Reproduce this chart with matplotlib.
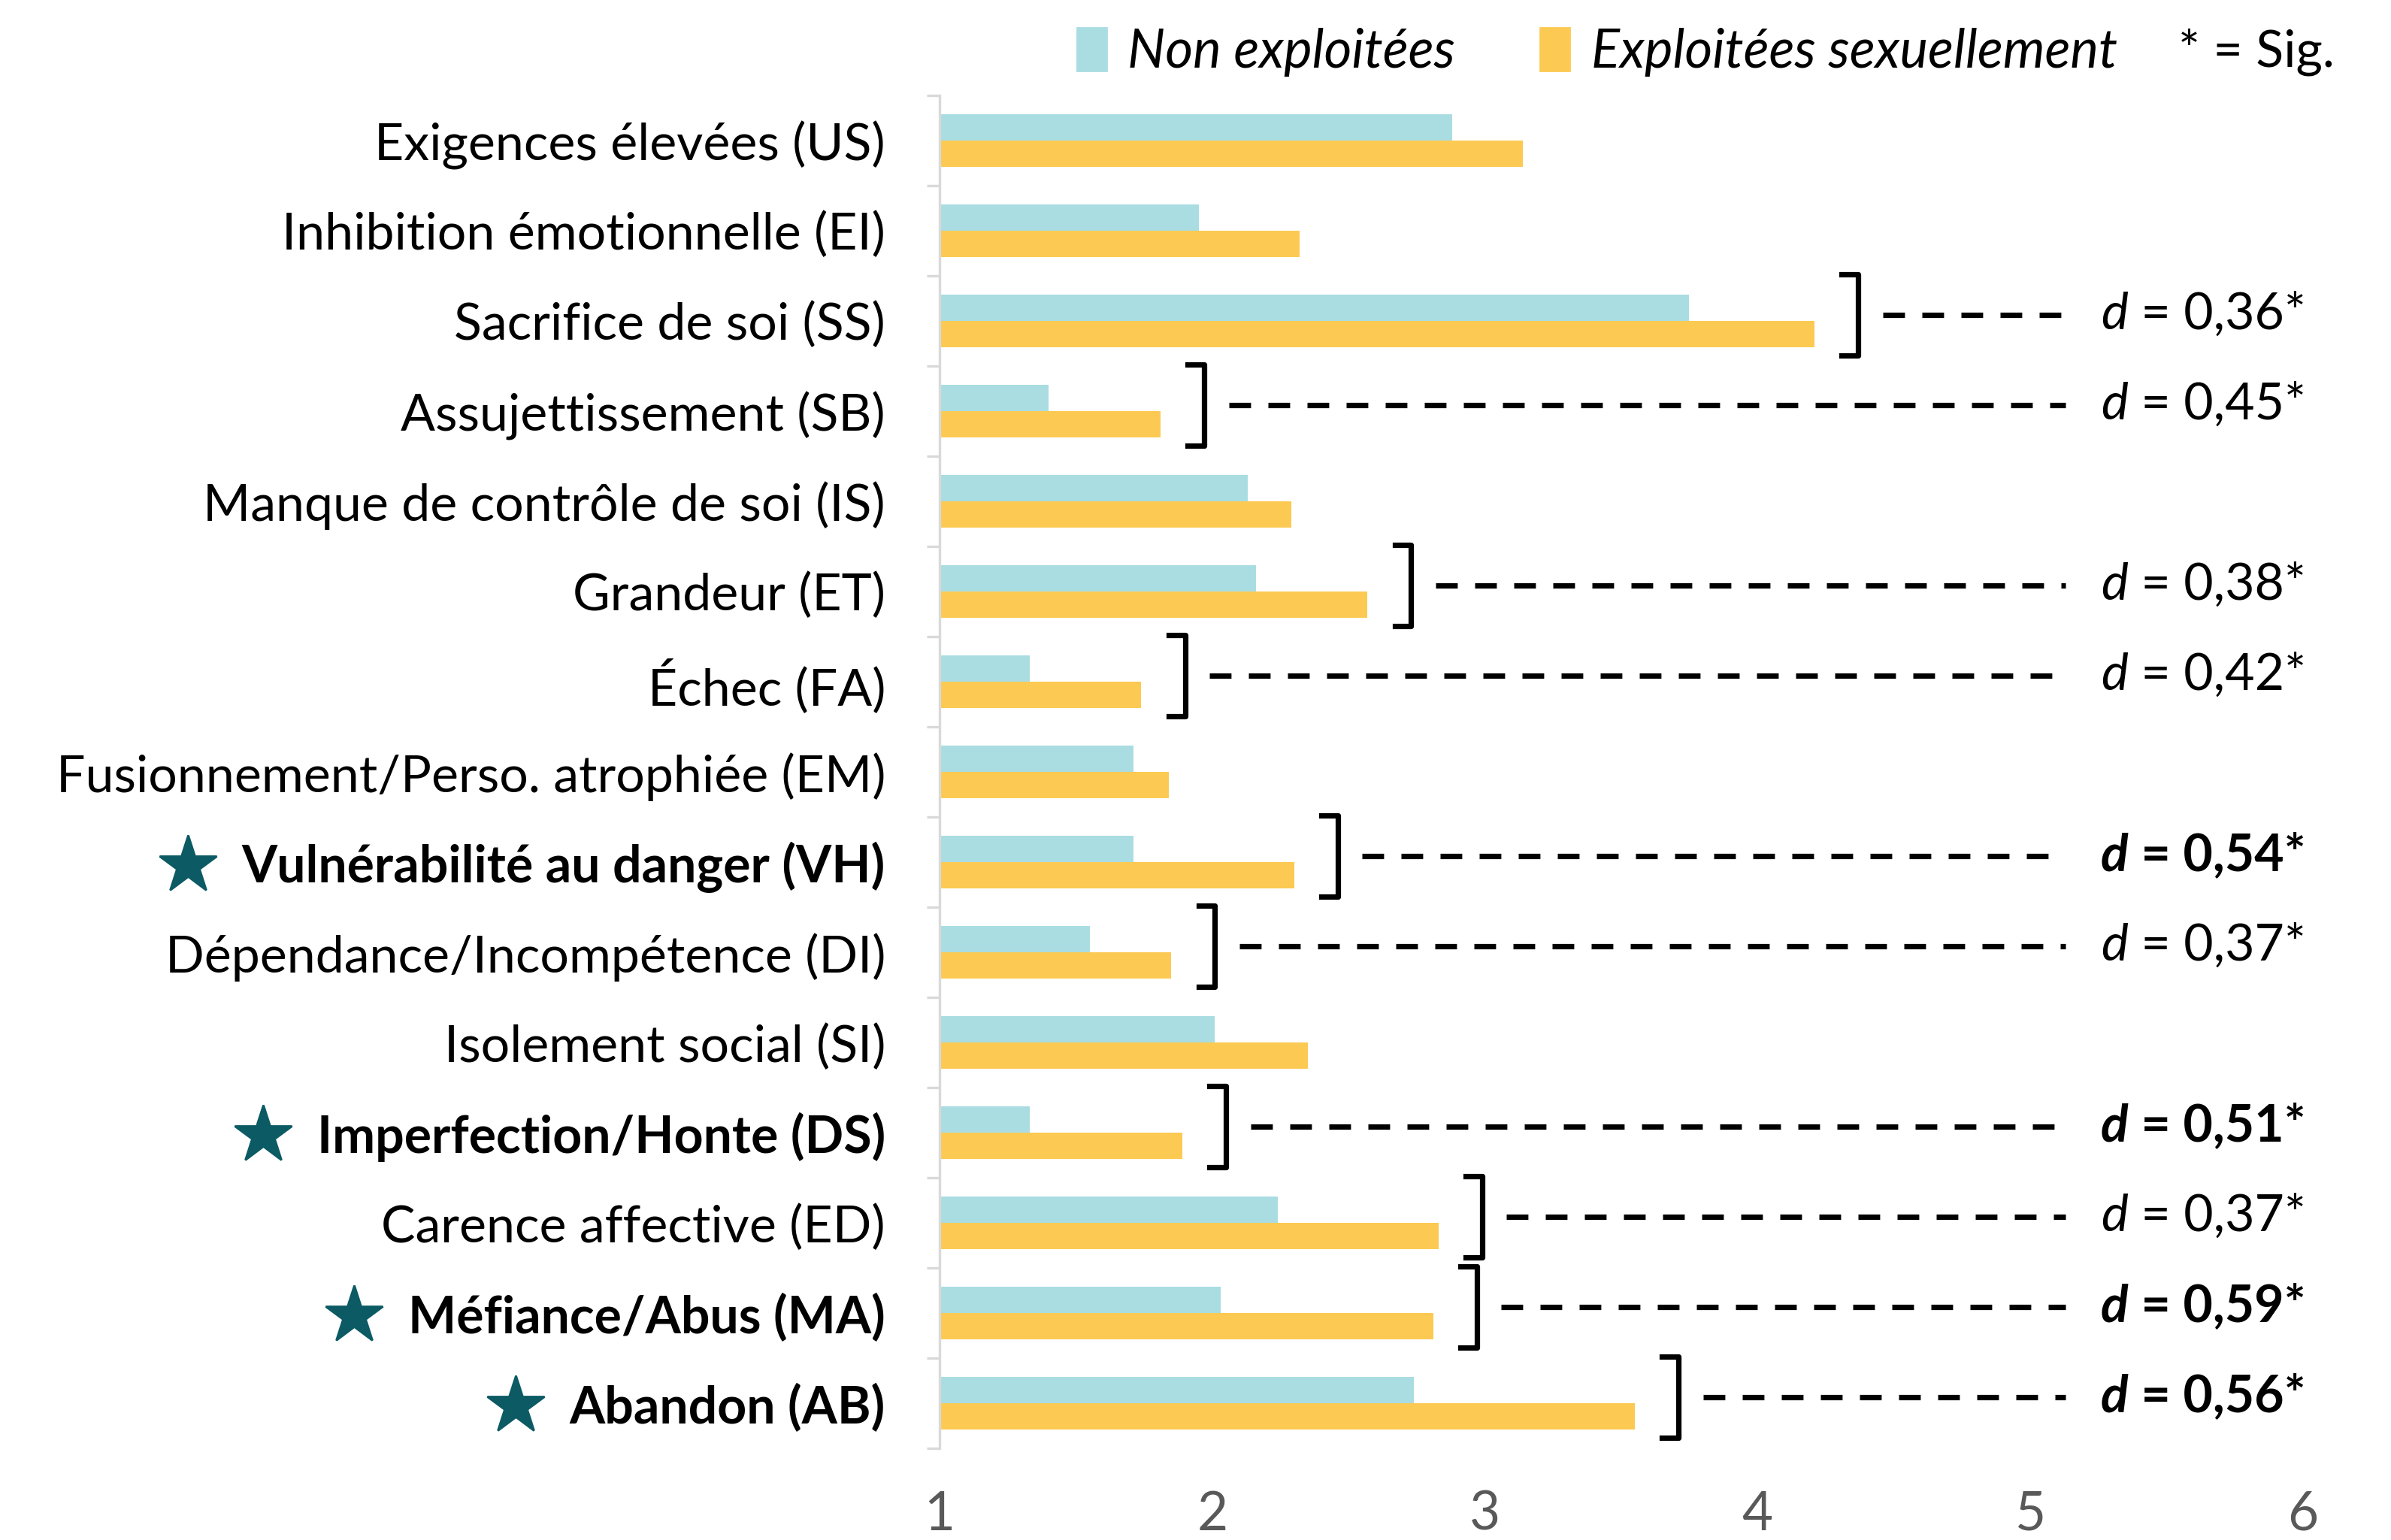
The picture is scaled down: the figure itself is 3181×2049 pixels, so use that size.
import numpy as np
import matplotlib.pyplot as plt
from matplotlib.patches import Patch

plt.rcParams['font.family'] = ['Lato', 'DejaVu Sans']

# Schémas (top to bottom)
labels = [
    "Exigences élevées (US)",
    "Inhibition émotionnelle (EI)",
    "Sacrifice de soi (SS)",
    "Assujettissement (SB)",
    "Manque de contrôle de soi (IS)",
    "Grandeur (ET)",
    "Échec (FA)",
    "Fusionnement/Perso. atrophiée (EM)",
    "Vulnérabilité au danger (VH)",
    "Dépendance/Incompétence (DI)",
    "Isolement social (SI)",
    "Imperfection/Honte (DS)",
    "Carence affective (ED)",
    "Méfiance/Abus (MA)",
    "Abandon (AB)",
]
non_exploitees = [2.88, 1.95, 3.75, 1.40, 2.13, 2.16, 1.33, 1.71, 1.71, 1.55, 2.01, 1.33, 2.24, 2.03, 2.74]
exploitees = [3.14, 2.32, 4.21, 1.81, 2.29, 2.57, 1.74, 1.84, 2.30, 1.85, 2.35, 1.89, 2.83, 2.81, 3.55]
# Cohen's d for significant differences (None = n.s.)
effect_d = [None, None, 0.36, 0.45, None, 0.38, 0.42, None, 0.54, 0.37, None, 0.51, 0.37, 0.59, 0.56]

BLUE = "#A9DDE2"
YELLOW = "#FCCA52"
STAR = "#0B5A64"
FS = 24.5

fig = plt.figure(figsize=(15.905, 10.245), dpi=200)
ax = fig.add_axes([0.393, 0.0594, 0.570, 0.8786])

y = np.arange(len(labels))
h = 0.29
ax.barh(y - h / 2, np.array(non_exploitees) - 1, height=h, left=1, color=BLUE)
ax.barh(y + h / 2, np.array(exploitees) - 1, height=h, left=1, color=YELLOW)

ax.set_xlim(1, 6)
ax.set_ylim(len(labels) - 0.5, -0.5)
ax.set_xticks(range(1, 7))
ax.tick_params(axis='x', length=0, pad=20, labelsize=25.5, labelcolor='#595959')

ax.set_yticks(y)
ax.set_yticklabels(labels)
ax.set_yticks(np.arange(-0.5, len(labels)), minor=True)
ax.tick_params(axis='y', which='major', length=0, pad=26, labelsize=FS)
ax.tick_params(axis='y', which='minor', length=6, width=1.2, color='#D9D9D9')

for s in ['top', 'right', 'bottom']:
    ax.spines[s].set_visible(False)
ax.spines['left'].set_color('#D9D9D9')
ax.spines['left'].set_linewidth(1.2)

strong = [d is not None and d >= 0.5 for d in effect_d]
for lab, st in zip(ax.get_yticklabels(), strong):
    if st:
        lab.set_fontweight('bold')

# brackets, dashed leaders and d values
for i, d in enumerate(effect_d):
    if d is None:
        continue
    yc = i - 0.07
    bx = exploitees[i] + 0.16
    top, bot = yc - 0.45, yc + 0.45
    ax.plot([bx - 0.06, bx, bx, bx - 0.06], [top, top, bot, bot],
            color='black', lw=2.6, solid_joinstyle='round', clip_on=False)
    ax.plot([bx + 0.09, 5.13], [yc, yc], color='black', lw=2.6,
            dashes=(4, 3.2), clip_on=False)
    w = 'bold' if d >= 0.5 else 'normal'
    t = ax.text(5.26, yc, "d", fontsize=FS, fontstyle='italic', fontweight=w,
                va='center', ha='left', clip_on=False)
    ax.annotate(" = " + f"{d:.2f}".replace('.', ',') + "*", xy=(1, 0), xycoords=t,
                va='bottom', ha='left', fontsize=FS, fontweight=w)

# stars in front of medium-effect labels
fig.canvas.draw()
inv = fig.transFigure.inverted()
for lab, st in zip(ax.get_yticklabels(), strong):
    if st:
        bb = lab.get_window_extent()
        fx, fy = inv.transform((bb.x0 - 72, (bb.y0 + bb.y1) / 2 + 3))
        fig.lines.append(plt.Line2D([fx], [fy], marker='*', markersize=29, color=STAR,
                                    transform=fig.transFigure))

handles = [Patch(color=BLUE), Patch(color=YELLOW)]
fig.legend(handles, ["Non exploitées", "Exploitées sexuellement"], loc='center',
           bbox_to_anchor=(0.668, 0.966), ncol=2, frameon=False,
           prop={'size': 25.5, 'style': 'italic'}, handlelength=0.55, handleheight=0.85,
           handletextpad=0.4, columnspacing=1.6)
fig.text(0.911, 0.966, "* = Sig.", fontsize=FS, va='center', ha='left')

fig.savefig("out.png", dpi=200)
